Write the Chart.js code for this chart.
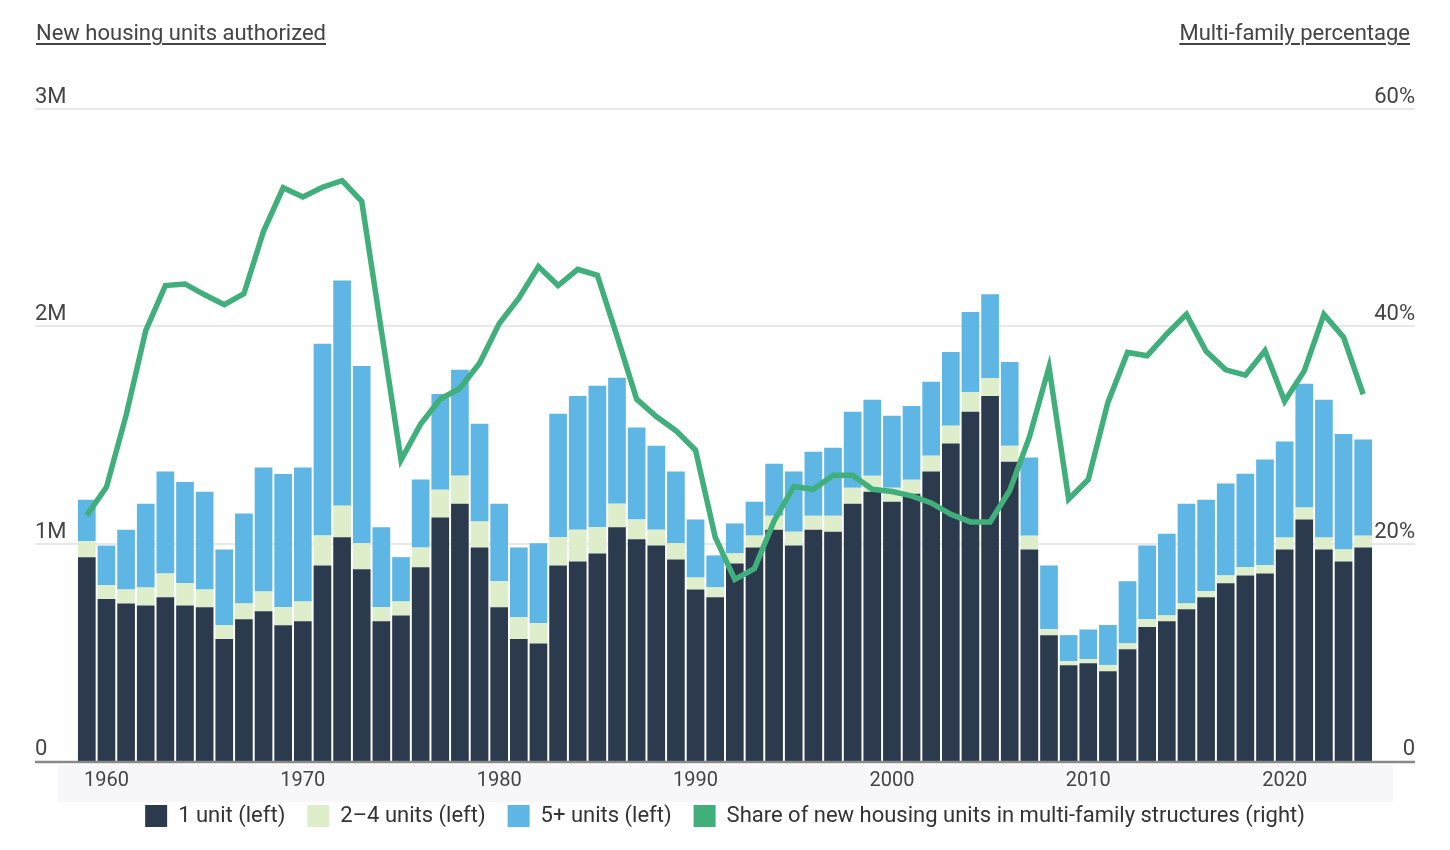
<!DOCTYPE html>
<html>
<head>
<meta charset="utf-8">
<script src="https://cdn.jsdelivr.net/npm/chart.js@4.4.1/dist/chart.umd.min.js"></script>
<style>
  html, body { margin: 0; padding: 0; background: #fff; }
  body { width: 1450px; height: 850px; position: relative; font-family: Roboto, "Noto Sans", sans-serif; }
  .axis-title { position: absolute; top: 20px; font-size: 22px; line-height: 26px; color: #444; text-decoration: underline; text-underline-offset: 3px; }
  #leftTitle { left: 36px; }
  #rightTitle { right: 40px; }
  #wrap { position: absolute; left: 0; top: 0; width: 1450px; height: 850px; }
</style>
</head>
<body>
<div id="wrap"><canvas id="housingChart"></canvas></div>
<div class="axis-title" id="leftTitle">New housing units authorized</div>
<div class="axis-title" id="rightTitle">Multi-family percentage</div>
<script>
// years 1959 - 2024
const years = [1959, 1960, 1961, 1962, 1963, 1964, 1965, 1966, 1967, 1968, 1969, 1970,
  1971, 1972, 1973, 1974, 1975, 1976, 1977, 1978, 1979, 1980,
  1981, 1982, 1983, 1984, 1985, 1986, 1987, 1988, 1989, 1990,
  1991, 1992, 1993, 1994, 1995, 1996, 1997, 1998, 1999, 2000,
  2001, 2002, 2003, 2004, 2005, 2006, 2007, 2008, 2009, 2010,
  2011, 2012, 2013, 2014, 2015, 2016, 2017, 2018, 2019, 2020,
  2021, 2022, 2023, 2024];

// millions of units
const oneUnit = [0.938, 0.745, 0.725, 0.716, 0.754, 0.716, 0.707, 0.561, 0.652, 0.689, 0.625, 0.643,
  0.900, 1.029, 0.882, 0.643, 0.670, 0.891, 1.120, 1.184, 0.982, 0.707,
  0.561, 0.541, 0.900, 0.918, 0.955, 1.075, 1.020, 0.991, 0.927, 0.789,
  0.754, 0.909, 0.982, 1.064, 0.991, 1.064, 1.055, 1.184, 1.239, 1.193,
  1.230, 1.332, 1.461, 1.607, 1.680, 1.377, 0.973, 0.579, 0.441, 0.450,
  0.413, 0.514, 0.616, 0.643, 0.698, 0.754, 0.818, 0.854, 0.863, 0.973,
  1.111, 0.973, 0.918, 0.982];

const twoToFour = [0.073, 0.064, 0.064, 0.082, 0.109, 0.102, 0.082, 0.064, 0.073, 0.091, 0.082, 0.091,
  0.138, 0.146, 0.120, 0.064, 0.064, 0.091, 0.128, 0.129, 0.120, 0.120,
  0.100, 0.093, 0.129, 0.146, 0.120, 0.109, 0.091, 0.073, 0.075, 0.055,
  0.045, 0.046, 0.055, 0.064, 0.064, 0.064, 0.073, 0.073, 0.073, 0.064,
  0.064, 0.073, 0.082, 0.091, 0.082, 0.073, 0.064, 0.027, 0.018, 0.018,
  0.029, 0.027, 0.036, 0.027, 0.027, 0.027, 0.036, 0.038, 0.038, 0.055,
  0.055, 0.055, 0.055, 0.055];

const fivePlus = [0.191, 0.182, 0.275, 0.386, 0.469, 0.466, 0.450, 0.348, 0.414, 0.570, 0.614, 0.616,
  0.882, 1.036, 0.816, 0.368, 0.204, 0.313, 0.441, 0.487, 0.450, 0.357,
  0.321, 0.368, 0.569, 0.616, 0.652, 0.579, 0.423, 0.386, 0.330, 0.267,
  0.147, 0.138, 0.156, 0.240, 0.277, 0.295, 0.313, 0.350, 0.350, 0.332,
  0.340, 0.340, 0.339, 0.368, 0.386, 0.386, 0.359, 0.294, 0.120, 0.137,
  0.184, 0.286, 0.339, 0.376, 0.459, 0.421, 0.423, 0.430, 0.486, 0.442,
  0.570, 0.634, 0.532, 0.442];

// percent of new units in multi-family structures
const multiShare = [22.6, 25.2, 31.8, 39.6, 43.75, 43.9, 42.9, 42.0, 43.0, 48.75, 52.75, 51.9,
  52.8, 53.4, 51.5, 39.6, 27.7, 31.0, 33.3, 34.3, 36.6, 40.25,
  42.6, 45.5, 43.75, 45.25, 44.7, 39.1, 33.3, 31.7, 30.4, 28.6,
  20.6, 16.7, 17.7, 22.1, 25.25, 25.0, 26.3, 26.3, 25.0, 24.8,
  24.4, 23.75, 22.7, 22.0, 22.0, 24.9, 29.8, 36.25, 24.1, 25.9,
  33.0, 37.6, 37.3, 39.3, 41.1, 37.7, 36.0, 35.5, 37.75, 33.1,
  35.9, 41.1, 39.0, 33.75];

const leftTickValues = [0, 1, 2, 3];
const leftTickLabels = ['0', '1M', '2M', '3M'];
const rightTickValues = [0, 20, 40, 60];
const rightTickLabels = ['0', '20%', '40%', '60%'];

const colors = {
  one: '#2c3a4e',
  two: '#deedca',
  five: '#5eb6e4',
  share: '#41af7b'
};

// gridlines, tick labels and gray band drawn across the full width
const framePlugin = {
  id: 'frame',
  beforeDraw(chart) {
    const ctx = chart.ctx;
    ctx.save();
    ctx.fillStyle = '#f7f7f9';
    ctx.fillRect(58, 765, 1335, 37);
    ctx.restore();
  },
  beforeDatasetsDraw(chart) {
    const ctx = chart.ctx;
    const y = chart.scales.y;
    const y1 = chart.scales.y1;
    ctx.save();
    ctx.strokeStyle = '#e8e8e8';
    ctx.lineWidth = 2;
    leftTickValues.forEach((v, i) => {
      if (i === 0) return;
      const py = Math.round(y.getPixelForValue(v));
      ctx.beginPath();
      ctx.moveTo(35, py);
      ctx.lineTo(1415, py);
      ctx.stroke();
    });
    ctx.font = '22px Roboto';
    ctx.fillStyle = '#444';
    ctx.textBaseline = 'alphabetic';
    ctx.textAlign = 'left';
    leftTickValues.forEach((v, i) => {
      ctx.fillText(leftTickLabels[i], 35, y.getPixelForValue(v) - 6);
    });
    ctx.textAlign = 'right';
    rightTickValues.forEach((v, i) => {
      ctx.fillText(rightTickLabels[i], 1415, y1.getPixelForValue(v) - 6);
    });
    ctx.restore();
  },
  afterDatasetsDraw(chart) {
    const ctx = chart.ctx;
    const py = chart.scales.y.getPixelForValue(0);
    ctx.save();
    ctx.strokeStyle = '#888';
    ctx.lineWidth = 2.5;
    ctx.beginPath();
    ctx.moveTo(35, py + 1);
    ctx.lineTo(1415, py + 1);
    ctx.stroke();
    ctx.restore();
  }
};

function renderChart() {
  const ctx = document.getElementById('housingChart').getContext('2d');
  new Chart(ctx, {
    type: 'bar',
    data: {
      labels: years,
      datasets: [
        { label: '1 unit (left)', data: oneUnit, backgroundColor: colors.one, yAxisID: 'y', order: 2 },
        { label: '2–4 units (left)', data: twoToFour, backgroundColor: colors.two, yAxisID: 'y', order: 2 },
        { label: '5+ units (left)', data: fivePlus, backgroundColor: colors.five, yAxisID: 'y', order: 2 },
        {
          type: 'line',
          label: 'Share of new housing units in multi-family structures (right)',
          data: multiShare,
          borderColor: colors.share,
          backgroundColor: colors.share,
          borderWidth: 5.5,
          pointRadius: 0,
          tension: 0,
          yAxisID: 'y1',
          order: 0
        }
      ]
    },
    options: {
      responsive: false,
      animation: false,
      maintainAspectRatio: false,
      layout: { padding: { left: 77, right: 77, top: 109, bottom: 13 } },
      datasets: { bar: { barPercentage: 0.9, categoryPercentage: 1.0 } },
      scales: {
        x: {
          stacked: true,
          grid: { display: false, drawTicks: false },
          border: { display: false },
          // short axis box so the legend sits close; mirror (with negative padding) avoids label clipping
          afterFit(scale) { scale.height = 22; },
          ticks: {
            autoSkip: false,
            maxRotation: 0,
            mirror: true,
            padding: -32,
            color: '#444',
            font: { family: 'Roboto', size: 20 },
            callback: function(value, index) {
              const yr = years[index];
              return yr % 10 === 0 ? String(yr) : '';
            }
          }
        },
        y: { display: false, stacked: true, min: 0, max: 3 },
        y1: { display: false, stacked: false, min: 0, max: 60 }
      },
      plugins: {
        tooltip: { enabled: false },
        legend: {
          position: 'bottom',
          labels: {
            boxWidth: 22,
            boxHeight: 22,
            padding: 22,
            color: '#333',
            font: { family: 'Roboto', size: 22 },
            generateLabels(chart) {
              return chart.data.datasets.map((ds, i) => ({
                text: ds.label,
                fillStyle: ds.type === 'line' ? ds.borderColor : ds.backgroundColor,
                strokeStyle: 'rgba(0,0,0,0)',
                lineWidth: 0,
                hidden: false,
                datasetIndex: i,
                fontColor: '#333'
              }));
            }
          }
        }
      }
    },
    plugins: [framePlugin]
  });
}

window.onload = function() {
  const canvas = document.getElementById('housingChart');
  canvas.width = 1450;
  canvas.height = 850;
  renderChart();
};
</script>
</body>
</html>
